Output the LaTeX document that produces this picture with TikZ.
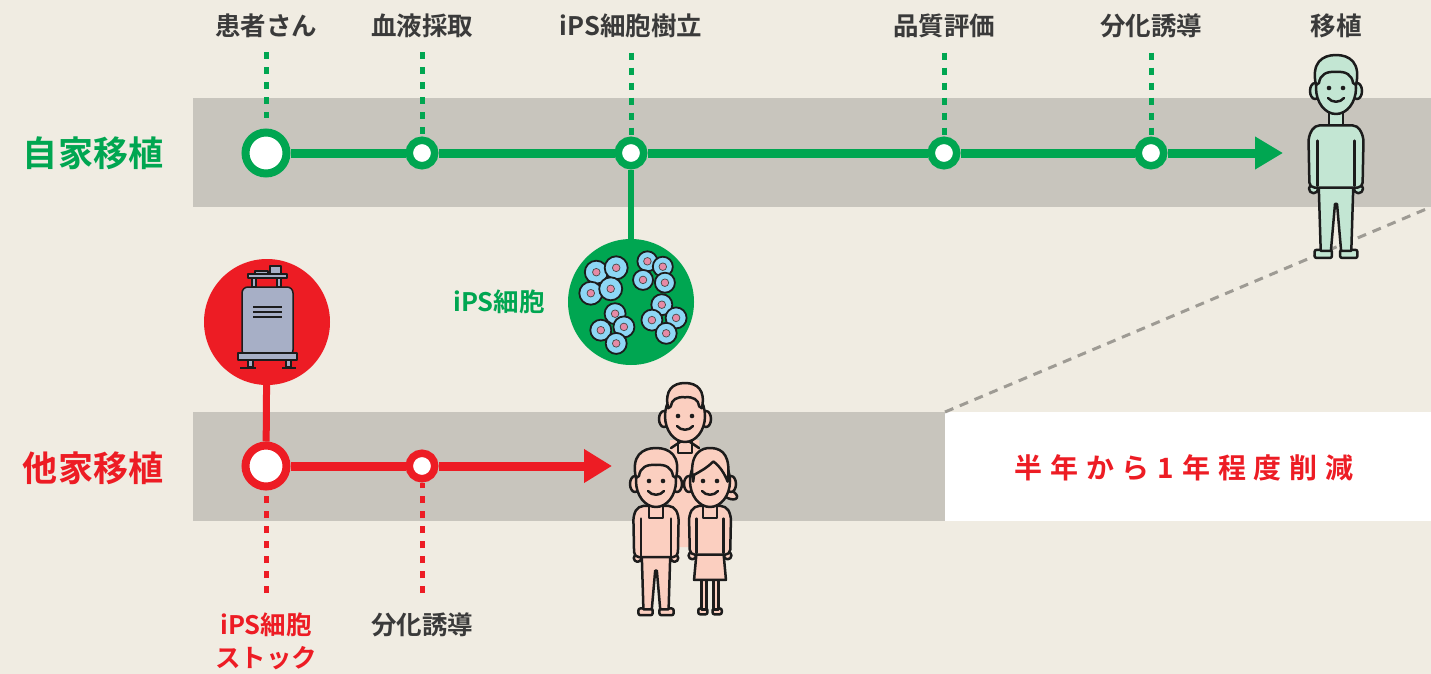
\documentclass[tikz,border=0pt]{standalone}
\usepackage{fontspec}
\setmainfont{Noto Sans CJK JP}[BoldFont={Noto Sans CJK JP Bold}]
\usetikzlibrary{arrows.meta}

\definecolor{bg}{HTML}{F0ECE2}
\definecolor{band}{HTML}{C8C5BD}
\definecolor{jgreen}{HTML}{00A651}
\definecolor{jred}{HTML}{ED1C24}
\definecolor{ink}{HTML}{3A3A3A}
\definecolor{outline}{HTML}{1C1C1C}
\definecolor{mint}{HTML}{C3E6D3}
\definecolor{peach}{HTML}{FBCFC0}
\definecolor{steel}{HTML}{A7AFC6}
\definecolor{cellblue}{HTML}{8DD7F5}
\definecolor{nucleus}{HTML}{E68AA5}
\definecolor{dashgray}{HTML}{9E9B94}

% one cell of a colony: blue body with a pink nucleus
\newcommand\cellat[3]{%
  \filldraw[fill=cellblue, draw=outline, line width=1.8pt] (#1,#2) circle (#3);
  \filldraw[fill=nucleus, draw=outline!80, line width=0.7pt] (#1,#2) circle (3.8);
}

\tikzset{
  inkline/.style={draw=outline, line width=2.5pt, line join=round, line cap=round},
  bigring/.style={circle, draw=#1, line width=8pt, fill=white, minimum size=41pt, inner sep=0pt},
  smallring/.style={circle, draw=#1, line width=7.5pt, fill=white, minimum size=25.5pt, inner sep=0pt},
  track/.style={draw=#1, line width=9pt},
  dots/.style={draw=#1, line width=5pt, dash pattern=on 7pt off 8pt},
  labelfont/.style={font=\bfseries\fontsize{25.5}{25.5}\selectfont, inner sep=0pt, anchor=base},
  toplabel/.style={labelfont, text=ink},
  rowlabel/.style={text=#1, font=\bfseries\fontsize{35}{35}\selectfont, inner sep=0pt, anchor=base},
  disc/.style={circle, fill=#1, minimum size=126pt, inner sep=0pt},
  % face, ears and neck shared by every figure
  pics/facebase/.style={code={
    \path[inkline, fill=#1] (-7,54) rectangle (7,70);
    \path[inkline, fill=#1] (-21,36) ellipse (5 and 8);
    \path[inkline, fill=#1] (21,36) ellipse (5 and 8);
    \path[inkline, fill=#1] (0,33) ellipse (20 and 26);
    \fill[outline] (-7,33) circle (2.3);
    \fill[outline] (7,33) circle (2.3);
    \draw[inkline] (-8,43) .. controls (-4,48) and (4,48) .. (8,43);
  }},
  pics/manhead/.style={code={
    \pic {facebase=#1};
    \path[inkline, fill=#1] (-20,30) .. controls (-25,8) and (-14,0) .. (0,0)
      .. controls (14,0) and (25,8) .. (20,30) -- (17,28)
      .. controls (16,20) and (10,16) .. (0,17)
      .. controls (-10,16) and (-16,20) .. (-17,28) -- cycle;
  }},
  pics/person/.style={code={
    \path[inkline, fill=#1, rounded corners=2pt] (-21,191) rectangle (-4,199);
    \path[inkline, fill=#1, rounded corners=2pt] (4,191) rectangle (21,199);
    \path[inkline, fill=#1] (-17,126) -- (-15,192) -- (-5,192) -- (-1,146)
      -- (1,146) -- (5,192) -- (15,192) -- (17,126) -- cycle;
    \path[inkline, fill=#1] (-22,131) circle (4.5);
    \path[inkline, fill=#1] (22,131) circle (4.5);
    \path[inkline, fill=#1, rounded corners=5pt] (-26,130) -- (-27,80) -- (-21,69)
      -- (21,69) -- (27,80) -- (26,130) -- cycle;
    \draw[inkline] (-18,84) -- (-18,128);
    \draw[inkline] (18,84) -- (18,128);
    \pic {manhead=#1};
  }},
  pics/girl/.style={code={
    \path[inkline, fill=#1, rounded corners=2pt] (-14,191) rectangle (-3,198);
    \path[inkline, fill=#1, rounded corners=2pt] (3,191) rectangle (14,198);
    \path[inkline, fill=#1] (-10,150) rectangle (-4,192);
    \path[inkline, fill=#1] (4,150) rectangle (10,192);
    \path[inkline, fill=#1] (-16,124) -- (-19,157) -- (19,157) -- (16,124) -- cycle;
    \path[inkline, fill=#1] (-21,128) circle (4.5);
    \path[inkline, fill=#1] (21,128) circle (4.5);
    \path[inkline, fill=#1, rounded corners=5pt] (-24,127) -- (-25,80) -- (-19,69)
      -- (19,69) -- (25,80) -- (24,127) -- cycle;
    \draw[inkline] (-16,84) -- (-16,125);
    \draw[inkline] (16,84) -- (16,125);
    \path[inkline, fill=#1, rotate around={-25:(23,55)}] (23,55) ellipse (10 and 5);
    \pic {facebase=#1};
    \path[inkline, fill=#1] (-20,40) .. controls (-26,6) and (-10,-1) .. (2,0)
      .. controls (16,1) and (25,10) .. (21,40)
      .. controls (17,30) and (12,22) .. (4,16)
      .. controls (-4,24) and (-12,28) .. (-19,32) -- cycle;
  }},
}

\begin{document}
\begin{tikzpicture}[x=1pt, y=-1pt]
  \fill[bg] (0,0) rectangle (1431,674);
  \useasboundingbox (0,0) rectangle (1431,674);

  % bands behind the two timelines
  \fill[band] (193,98) rectangle (1431,207);
  \fill[band] (193,412) rectangle (945,521);
  \fill[white] (945,412) rectangle (1431,521);

  % dashed guide from the shortened timeline to the long one
  \coordinate (cutA) at (945,412);
  \coordinate (cutB) at (1431,207);
  \draw[dashgray, line width=3pt, dash pattern=on 9pt off 7pt] (cutA) -- (cutB);

  % ---- autologous timeline ----
  \node[bigring=jgreen] (g0) at (266,153) {};
  \node[smallring=jgreen] (g1) at (422,153) {};
  \node[smallring=jgreen] (g2) at (631,153) {};
  \node[smallring=jgreen] (g3) at (944,153) {};
  \node[smallring=jgreen] (g4) at (1151,153) {};
  \coordinate (gend) at (1283,153);
  \draw[track=jgreen] (g0) -- (g1) -- (g2) -- (g3) -- (g4);
  \draw[track=jgreen, -{Triangle[length=28pt,width=31pt]}] (g4) -- (gend);

  \node[toplabel] (l0) at (266,36) {患者さん};
  \node[toplabel] (l1) at (422,36) {血液採取};
  \node[toplabel] (l2) at (631,36) {iPS細胞樹立};
  \node[toplabel] (l3) at (944,36) {品質評価};
  \node[toplabel] (l4) at (1151,36) {分化誘導};
  \node[toplabel] (l5) at (1336,36) {移植};
  \draw[dots=jgreen, shorten <=14pt, shorten >=10pt] (l0) -- (g0);
  \foreach \i in {1,...,4} {
    \draw[dots=jgreen, shorten <=14pt] (l\i) -- (g\i);
  }

  \node[rowlabel=jgreen] (rowA) at (93,166) {自家移植};

  % iPS cell colonies
  \node[disc=jgreen] (cellpool) at (631,302) {};
  \draw[jgreen, line width=6pt] (g2) -- (cellpool);
  \cellat{596.3}{272.2}{11.5}\cellat{616.2}{267.8}{11.5}\cellat{590.8}{293.2}{11.5}\cellat{610.7}{288.8}{11.5}
  \cellat{647.4}{261.3}{10}\cellat{662.8}{266.7}{10}\cellat{643}{279.9}{10}\cellat{664.9}{282.7}{10}
  \cellat{615.1}{313.7}{10.5}\cellat{600.8}{330.2}{10.5}\cellat{623.9}{326.9}{10.5}\cellat{616.2}{343.4}{10.5}
  \cellat{661.8}{304.7}{10.5}\cellat{651.9}{320.1}{10.5}\cellat{676.1}{317.9}{10.5}\cellat{666.2}{333.3}{10.5}
  \node[labelfont, text=jgreen] (cellname) at (499,311) {iPS細胞};

  % ---- allogeneic timeline ----
  \node[disc=jred] (dewar) at (267,322) {};
  \node[bigring=jred] (r0) at (266,466) {};
  \node[smallring=jred] (r1) at (422,466) {};
  \coordinate (rend) at (612,466);
  \draw[jred, line width=7pt] (dewar) -- (r0);
  \draw[track=jred] (r0) -- (r1);
  \draw[track=jred, -{Triangle[length=28pt,width=32pt]}] (r1) -- (rend);
  \coordinate (r0foot) at (266,593);
  \coordinate (r1foot) at (422,593);
  \draw[dots=jred] (r0foot) -- (r0);
  \draw[dots=jred] (r1foot) -- (r1);

  \node[rowlabel=jred] (rowB) at (93,481) {他家移植};
  \node[labelfont, text=jred] (stockA) at (266,634) {iPS細胞};
  \node[labelfont, text=jred] (stockB) at (266,667) {ストック};
  \node[toplabel] (r1lbl) at (422,634) {分化誘導};

  \node[text=jred, font=\bfseries\fontsize{28}{28}\selectfont\addfontfeature{LetterSpace=28},
    inner sep=0pt, anchor=base] (saving) at (1184,478) {半年から1年程度削減};

  % liquid nitrogen storage tank
  \begin{scope}[draw=outline, line width=1.5pt, line join=round]
    \filldraw[fill=steel] (255,271) rectangle (268,275);
    \filldraw[fill=steel] (270,266) rectangle (281,275);
    \filldraw[fill=steel] (252,277) rectangle (256,287);
    \filldraw[fill=steel] (277,277) rectangle (281,287);
    \filldraw[fill=steel] (248,274) rectangle (287,278);
    \filldraw[fill=steel, rounded corners=6pt] (242,356) -- (242,287) -- (293,287) -- (293,356) -- cycle;
    \draw (253,307) -- (282,307);
    \draw (253,312) -- (282,312);
    \draw (253,317) -- (282,317);
    \filldraw[fill=steel] (248,360) rectangle (253,367);
    \filldraw[fill=steel] (286,360) rectangle (291,367);
    \filldraw[fill=steel] (238,353) rectangle (297,360);
    \draw[line width=2.2pt] (240,368) -- (256,368);
    \draw[line width=2.2pt] (282,368) -- (296,368);
  \end{scope}

  % recipient after transplantation
  \pic[scale=1.02] at (1336,55) {person=mint};

  % family group at the end of the shortened timeline
  \fill[peach] (670,440) -- (699,440) -- (700,547) -- (669,547) -- cycle;
  \pic[scale=0.84] at (685,383) {manhead=peach};
  \draw[inkline] (671,448) -- (680,442);
  \draw[inkline] (690,442) -- (699,448);
  \pic[scale=0.84] at (656,448) {person=peach};
  \pic[scale=0.84] at (710,448) {girl=peach};
\end{tikzpicture}
\end{document}
